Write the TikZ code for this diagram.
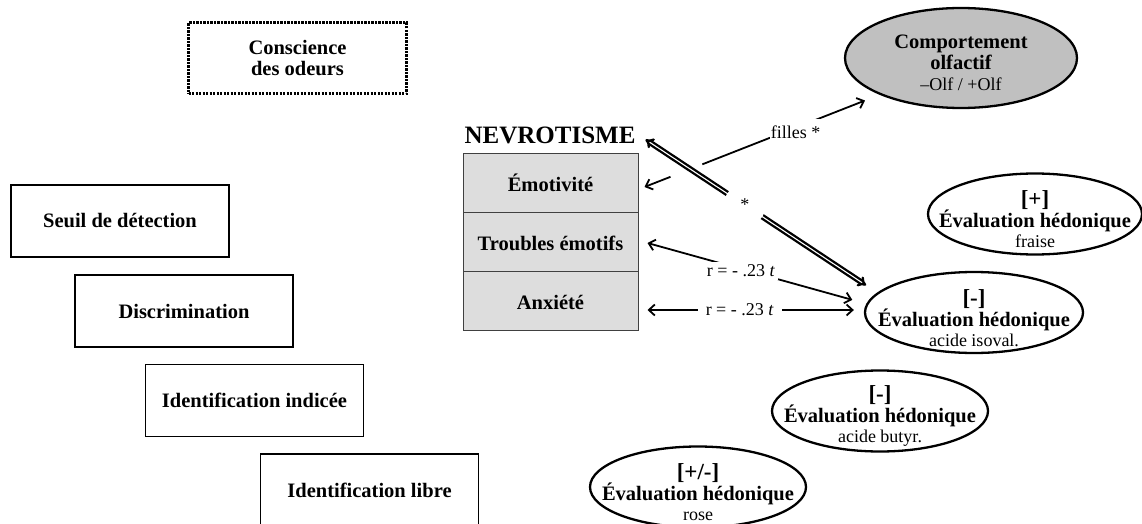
\documentclass[tikz,border=0pt]{standalone}
\usepackage{fontspec}
\setmainfont{Liberation Serif}
\usetikzlibrary{arrows.meta,shapes.geometric}
\definecolor{cellgray}{RGB}{221,221,221}
\definecolor{ovalgray}{RGB}{192,192,192}
\newcommand{\bfbig}{\bfseries\fontsize{23}{23}\selectfont}
\newcommand{\bfmid}{\bfseries\fontsize{20.5}{22}\selectfont}
\newcommand{\bfhead}{\bfseries\fontsize{25}{26}\selectfont}
\newcommand{\rmsub}{\mdseries\fontsize{18}{20}\selectfont}
% invisible strut that lowers a text block inside its shape
\newcommand{\lowerby}[1]{\rule{0pt}{#1}}

\begin{document}
\begin{tikzpicture}[x=1pt,y=-1pt,
  box/.style={draw, line width=1.3pt, minimum width=218pt, minimum height=72pt,
    inner sep=0pt, font=\bfmid},
  dotbox/.style={draw, line width=3pt, dash pattern=on 2.2pt off 1.3pt,
    minimum width=218pt, minimum height=71pt, inner sep=0pt, align=center,
    font=\bfmid},
  cell/.style={draw=black!75, line width=1pt, fill=cellgray, minimum width=175pt,
    minimum height=59pt, inner sep=0pt, font=\bfmid},
  hed/.style={ellipse, draw, line width=2.3pt, minimum width=216pt,
    minimum height=81pt, inner xsep=-40pt, inner ysep=-20pt, align=center,
    font=\bfmid},
  thinarr/.style={line width=1.8pt,
    {Straight Barb[length=6pt,width=11pt]}-{Straight Barb[length=6pt,width=11pt]}},
  dbl/.style={double, line width=2.3pt, double distance=1.1pt, {Implies}-{Implies}},
  gap/.style={fill=white, inner sep=0pt, font=\rmsub},
]
\useasboundingbox (0,0) rectangle (1142,524);

% odour abilities
\node[dotbox] (consc) at (297.5,58.5) {Conscience\\[-1pt]des odeurs};
\node[box] (seuil) at (120,221) {Seuil de détection};
\node[box] (discr) at (184,311) {Discrimination};
\node[box] (idind) at (254.5,400.5) {Identification indicée};
\node[box] (idlib) at (369.5,490) {Identification libre};

% neuroticism block
\node[font=\bfhead, inner sep=0pt] (nev) at (550,135) {NEVROTISME};
\node[cell] (emo) at (550.5,182.5) {\lowerby{19pt}Émotivité};
\node[cell] (tro) at (550.5,241.5) {\lowerby{19pt}Troubles émotifs};
\node[cell] (anx) at (550.5,300.5) {\lowerby{19pt}Anxiété};

% olfactory behaviour and hedonic ratings
\node[hed, fill=ovalgray, minimum width=232pt, minimum height=100pt] (comp) at (961,58)
  {\lowerby{24pt}Comportement\\[-1pt]olfactif\\[-1pt]\rmsub –Olf / +Olf};
\node[hed, minimum width=214pt] (fra) at (1035,214)
  {\lowerby{26pt}\bfbig [+]\\[-1pt]\bfmid Évaluation hédonique\\[-2pt]\rmsub fraise};
\node[hed, minimum width=218pt] (iso) at (974,312.5)
  {\lowerby{28pt}\bfbig [-]\\[-1pt]\bfmid Évaluation hédonique\\[-2pt]\rmsub acide isoval.};
\node[hed] (but) at (880,411)
  {\lowerby{26pt}\bfbig [-]\\[-1pt]\bfmid Évaluation hédonique\\[-2pt]\rmsub acide butyr.};
\node[hed] (rose) at (698,487)
  {\lowerby{26pt}\bfbig [+/-]\\[-1pt]\bfmid Évaluation hédonique\\[-2pt]\rmsub rose};

% links
\draw[thinarr] ([shift={(6,4.5)}]emo.east) -- ([shift={(-14,6)}]comp.204)
  node[pos=0.19, sloped, fill=white, minimum width=34pt, minimum height=6pt, inner sep=0pt] {}
  node[pos=0.685, gap, yshift=-4pt, inner xsep=1pt, inner ysep=6pt] {filles *};
\draw[dbl] ([shift={(7,-13)}]emo.north east) -- ([shift={(-16,-4.3)}]iso.166)
  node[pos=0.45, circle, fill=white, minimum size=42pt, inner sep=0pt, font=\rmsub] {*};
\draw[thinarr] ([shift={(9,1.5)}]tro.east) -- ([shift={(-15.6,-1.5)}]iso.174)
  node[pos=0.456, gap, inner xsep=3pt, inner ysep=3pt, yshift=-2pt] {r = - .23 \textit{t}};
\draw[thinarr] ([shift={(9,9.5)}]anx.east) -- ([shift={(-10,-2.5)}]iso.west)
  node[pos=0.447, gap, inner xsep=8pt, inner ysep=3pt] {r = - .23 \textit{t}};
\end{tikzpicture}
\end{document}
